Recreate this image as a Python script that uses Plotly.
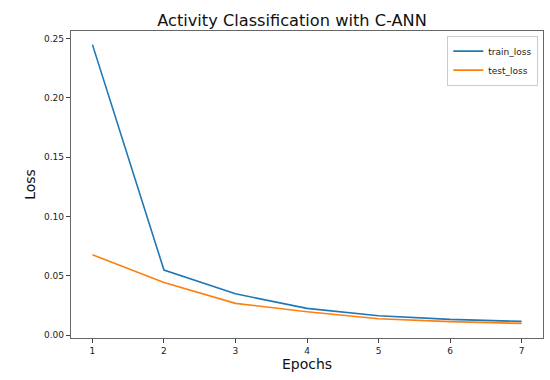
import plotly.graph_objects as go

epochs = [1, 2, 3, 4, 5, 6, 7]
train_loss = [0.245, 0.0548, 0.0348, 0.0225, 0.0163, 0.0132, 0.0115]
test_loss = [0.0677, 0.0444, 0.0267, 0.0197, 0.0137, 0.0113, 0.0098]
x_ticks = [1, 2, 3, 4, 5, 6, 7]
y_ticks = [0.0, 0.05, 0.10, 0.15, 0.20, 0.25]
y_tick_text = ["0.00", "0.05", "0.10", "0.15", "0.20", "0.25"]

font = "DejaVu Sans"
fig = go.Figure()
fig.add_trace(go.Scatter(x=epochs, y=train_loss, mode="lines", name="train_loss",
                         line=dict(color="#1f77b4", width=1.6)))
fig.add_trace(go.Scatter(x=epochs, y=test_loss, mode="lines", name="test_loss",
                         line=dict(color="#ff7f0e", width=1.6)))

axis_common = dict(showgrid=False, zeroline=False, showline=True, mirror=True,
                   linecolor="#666", linewidth=1.3, ticks="outside", ticklen=4,
                   tickcolor="#444", tickwidth=1, tickfont=dict(family=font, size=9, color="#222"))
fig.update_layout(
    width=550, height=380,
    paper_bgcolor="white", plot_bgcolor="white",
    margin=dict(l=71, r=7, t=31, b=42),
    title=dict(text="Activity Classification with C-ANN", x=292/550, xanchor="center",
               y=1 - 26/380, yanchor="bottom", font=dict(family=font, size=16.2, color="#111")),
    xaxis=dict(range=[0.7, 7.3], tickvals=x_ticks, ticktext=[str(v) for v in x_ticks],
               title=dict(text="Epochs", font=dict(family=font, size=14, color="#111"), standoff=3),
               **axis_common),
    yaxis=dict(range=[-0.0025, 0.2565], tickvals=y_ticks, ticktext=y_tick_text,
               title=dict(text="Loss", font=dict(family=font, size=14, color="#111"), standoff=5),
               **axis_common),
    legend=dict(x=0.99, y=0.985, xanchor="right", yanchor="top",
                bordercolor="#ccc", borderwidth=1, bgcolor="white",
                font=dict(family=font, size=9, color="#222")),
    showlegend=True,
)
fig.write_html("out.html", config={"displayModeBar": False},
               post_script="document.body.style.margin='0';")
